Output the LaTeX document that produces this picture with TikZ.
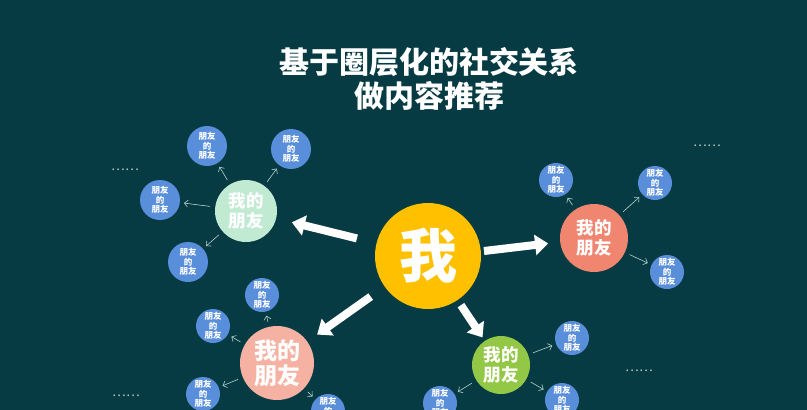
\documentclass[tikz,border=0pt]{standalone}
\usepackage{fontspec}
\newfontfamily\cjk{Noto Sans CJK SC}
\usetikzlibrary{arrows.meta}
\definecolor{bg}{RGB}{6,59,68}
\definecolor{meyellow}{RGB}{255,192,0}
\definecolor{mint}{RGB}{192,234,210}
\definecolor{salmon}{RGB}{240,134,112}
\definecolor{pink}{RGB}{245,178,163}
\definecolor{leaf}{RGB}{146,200,70}
\definecolor{fofblue}{RGB}{88,142,218}
\definecolor{linegray}{RGB}{180,210,205}
\newcommand{\fof}{朋友\\的\\朋友}
\newcommand{\myfriend}{我的\\朋友}

\begin{document}
\begin{tikzpicture}[x=1pt,y=-1pt,
  friend/.style={circle, inner sep=0pt, text=white, align=center,
    font=\cjk\bfseries\fontsize{17.5}{19.5}\selectfont},
  fof/.style={circle, fill=fofblue, inner sep=0pt, minimum size=34pt, text=white,
    align=center, font=\cjk\bfseries\fontsize{8.5}{9.5}\selectfont},
  fofarrow/.style={-{Straight Barb[length=3.5pt,width=7pt,line width=.6pt]}, draw=linegray,
    line width=.6pt, shorten >=4pt, shorten <=5pt},
  mearrow/.style={-{Triangle[width=20pt,length=13pt]}, draw=white, line width=8pt},
  more/.style={text=linegray, font=\cjk\fontsize{13}{13}\selectfont}]

\fill[bg] (0,0) rectangle (807,410);
\useasboundingbox (0,0) rectangle (807,410);
\clip (0,0) rectangle (807,410);

\node (title) at (429,79) [text=white, align=center,
  font=\cjk\bfseries\fontsize{30}{34}\selectfont] {基于圈层化的社交关系\\做内容推荐};

% me
\node (me) at (428,256) [circle, fill=meyellow, minimum size=106pt, inner sep=0pt,
  text=white, font=\cjk\bfseries\fontsize{58}{58}\selectfont] {我};

% friends
\node (lf) at (246,211) [friend, fill=mint, minimum size=62pt] {\myfriend};
\node (rf) at (594,238) [friend, fill=salmon, minimum size=68pt] {\myfriend};
\node (bl) at (277,363) [friend, fill=pink, minimum size=74pt,
  font=\cjk\bfseries\fontsize{23}{25}\selectfont] {\myfriend};
\node (br) at (501,365) [friend, fill=leaf, minimum size=58pt] {\myfriend};

% friends of friends
\node (lf1) at (207,146) [fof, minimum size=40pt] {\fof};
\node (lf2) at (291,149) [fof, minimum size=40pt] {\fof};
\node (lf3) at (160,200) [fof, minimum size=40pt] {\fof};
\node (lf4) at (188,262) [fof, minimum size=40pt] {\fof};

\node (rf1) at (556,180) [fof] {\fof};
\node (rf2) at (655,183) [fof] {\fof};
\node (rf3) at (667,272) [fof] {\fof};

\node (bl1) at (262,295) [fof] {\fof};
\node (bl2) at (213,326) [fof] {\fof};
\node (bl3) at (203,394) [fof] {\fof};
\node (bl4) at (328,411) [fof] {\fof};

\node (br1) at (572,338) [fof] {\fof};
\node (br2) at (562,400) [fof] {\fof};
\node (br3) at (440,403) [fof] {\fof};

% dots
\node (m1) at (125,170) [more] {……};
\node (m2) at (707,146) [more] {……};
\node (m3) at (126,396) [more] {……};
\node (m4) at (639,371) [more] {……};

\draw[mearrow, shorten <=20pt, shorten >=16pt] (me) to (lf);
\draw[mearrow, shorten <=3pt, shorten >=12pt] (me.5) to (rf);
\draw[mearrow, shorten <=17pt, shorten >=12pt] (me) to (bl);
\draw[mearrow, shorten <=6pt, shorten >=4pt] (me) to (br);

\foreach \a/\b in {lf/lf1,lf/lf2,lf/lf3,lf/lf4,rf/rf1,rf/rf2,rf/rf3,
  bl/bl1,bl/bl2,bl/bl3,bl/bl4,br/br1,br/br2,br/br3}
  \draw[fofarrow] (\a) to (\b);

\end{tikzpicture}
\end{document}
